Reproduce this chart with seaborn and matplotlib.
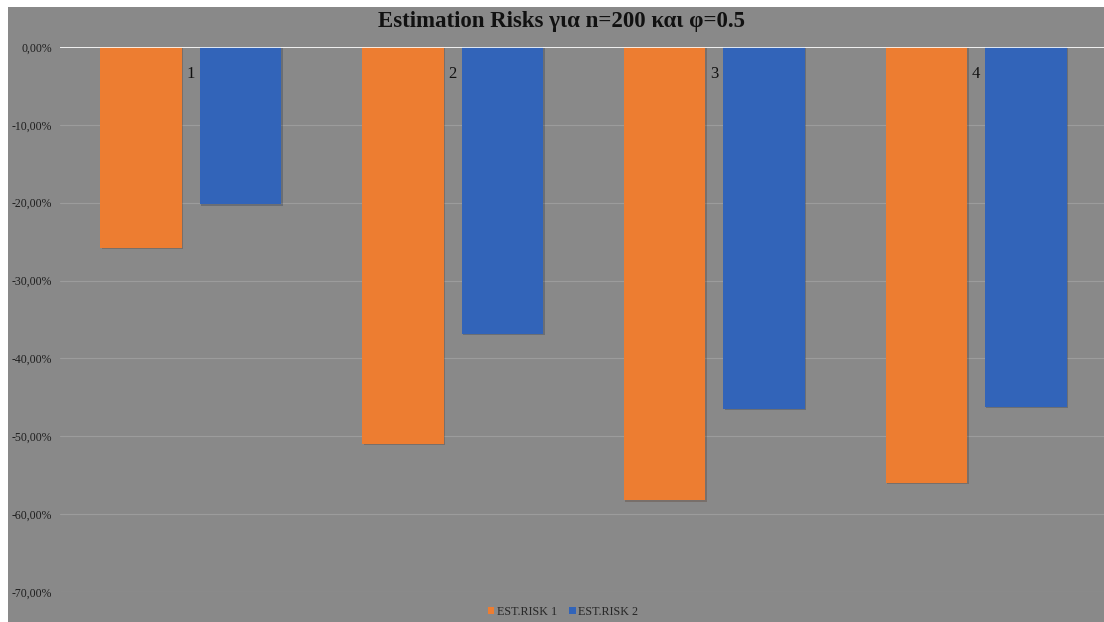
import matplotlib.pyplot as plt
import matplotlib.patheffects as pe
from matplotlib.patches import Rectangle
from matplotlib.ticker import FuncFormatter
import pandas as pd
import seaborn as sns

# values (percent)
categories = ['1', '2', '3', '4']
est_risk_1 = [-25.8, -51.0, -58.2, -56.0]
est_risk_2 = [-20.2, -36.8, -46.5, -46.2]
series_names = ['EST.RISK 1', 'EST.RISK 2']
y_ticks = [0, -10, -20, -30, -40, -50, -60, -70]

df = pd.DataFrame({
    'cat': categories * 2,
    'value': est_risk_1 + est_risk_2,
    'series': [series_names[0]] * 4 + [series_names[1]] * 4,
})

sns.set_style('white')
plt.rcParams['font.family'] = ['Liberation Serif', 'DejaVu Serif']

bg = '#898989'
fig = plt.figure(figsize=(11.04, 6.22), dpi=100, facecolor='white')
# grey chart area with thin white border top/left
fig.patches.append(Rectangle((8 / 1104, 0), 1, 1 - 7 / 622, transform=fig.transFigure,
                             facecolor=bg, edgecolor='none', zorder=-10))
ax = fig.add_axes([60 / 1104, 1 - 592 / 622, 1047 / 1104, 545 / 622])
ax.set_facecolor(bg)

sns.barplot(data=df, x='cat', y='value', hue='series', order=categories,
            palette=['#ED7D31', '#3264B9'], width=0.76, gap=0.18,
            saturation=1, linewidth=0, ax=ax, zorder=3)
for bar in ax.patches:
    bar.set_edgecolor('none')
    bar.set_path_effects([pe.SimplePatchShadow(offset=(1, -1), alpha=0.25), pe.Normal()])

ax.set_ylim(-70, 0)
ax.set_xlim(-0.5, 3.5)
ax.set_yticks(y_ticks)
ax.yaxis.set_major_formatter(FuncFormatter(lambda v, p: f'{v:.2f}%'.replace('.', ',')))
ax.grid(axis='y', color='#9c9c9c', lw=0.8, zorder=0)
ax.axhline(0, color='white', lw=1.2, zorder=4)
for s in ax.spines.values():
    s.set_visible(False)
ax.tick_params(axis='y', length=0, pad=6, labelsize=8.5, labelcolor='#1e1e1e')
ax.tick_params(axis='x', length=0, bottom=False, labelbottom=False, top=False,
               labeltop=True, pad=-25, labelsize=12, labelcolor='#111111')
ax.set_xlabel('')
ax.set_ylabel('')

fig.text(561 / 1104, 1 - 22 / 622, 'Estimation Risks για n=200 και φ=0.5', ha='center', va='center',
         fontsize=16.5, fontweight='bold', color='#111111')

sns.move_legend(ax, 'center', bbox_to_anchor=(563 / 1104, 1 - 612 / 622), bbox_transform=fig.transFigure,
                ncol=2, frameon=False, title=None, fontsize=8.7, handlelength=0.55,
                handleheight=0.55, handletextpad=0.2, columnspacing=1.0)
for h in ax.get_legend().legend_handles:
    h.set_edgecolor('none')

fig.savefig('out.png', dpi=100)
